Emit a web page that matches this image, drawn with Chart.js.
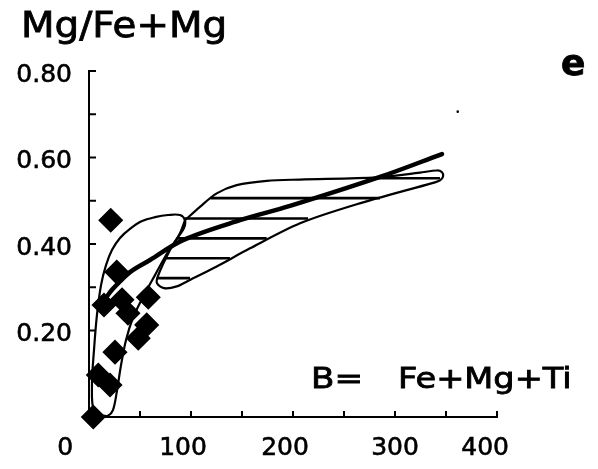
<!DOCTYPE html>
<html>
<head>
<meta charset="utf-8">
<script src="https://cdn.jsdelivr.net/npm/chart.js@4/dist/chart.umd.min.js"></script>
<style>
html,body{margin:0;padding:0;background:#fff;}
#wrap{width:598px;height:469px;position:relative;}
</style>
</head>
<body>
<div id="wrap"><canvas id="c"></canvas></div>
<script>
// ---- data ----
const diamondX = [21.3, 27.2, 14.7, 32.4, 38.2, 58.1, 56.6, 48.3, 25.5, 9.1, 20.6, 4.2];
const diamondY = [0.455, 0.335, 0.259, 0.271, 0.240, 0.277, 0.213, 0.182, 0.150, 0.097, 0.074, 0.000];

const curveX = [18.6, 22.5, 40.2, 59.8, 92.2, 148.0, 197.1, 285.3, 346.1];
const curveY = [0.282, 0.294, 0.335, 0.363, 0.409, 0.455, 0.488, 0.555, 0.608];

const fieldX = [94.1,108.8,125.2,144.8,174.2,206.9,282.4,324.5,340.9,346.1,347.1,344.1,338.2,262.5,206.9,157.8,125.2,99.0,86.0,73.5,66.7,67.6,79.4,89.2,94.1];
const fieldY = [0.455,0.486,0.517,0.536,0.546,0.549,0.554,0.565,0.570,0.566,0.556,0.547,0.542,0.492,0.448,0.390,0.348,0.317,0.302,0.298,0.309,0.326,0.386,0.425,0.455];

const loopX = [13.7,4.9,2.9,4.9,7.8,11.8,16.7,22.5,30.4,40.2,52.0,64.7,77.5,89.2,94.1,93.1,87.3,77.5,64.7,52.9,43.1,36.3,31.4,27.5,23.5,18.6,13.7];
const loopY = [0.003,0.012,0.074,0.155,0.236,0.305,0.351,0.386,0.414,0.435,0.453,0.462,0.467,0.467,0.455,0.437,0.416,0.382,0.328,0.277,0.229,0.178,0.120,0.062,0.016,0.003,0.003];

const hatchY  = [0.552, 0.506, 0.459, 0.413, 0.367, 0.321];
const hatchX0 = [282.4, 119.1, 94.1, 86.3, 75.5, 67.6];
const hatchX1 = [344.1, 285.3, 214.7, 174.2, 138.2, 99.0];

const speckX = [361.5];
const speckY = [0.706];

const xTickLabels = ['0', '100', '200', '300', '400'];
const yTickLabels = ['0.20', '0.40', '0.60', '0.80'];

const titleText = 'Mg/Fe+Mg';
const panelText = 'e';
const axisNoteA = 'B=';
const axisNoteB = 'Fe+Mg+Ti';

// styling: trailing spaces nudging each x label as in the original print
const xLabelPad = [6, 2, 2, 0, 3];

// ---- build datasets ----
const zip = (xs, ys) => xs.map((x, i) => ({x, y: ys[i]}));
const INK = '#000';

const datasets = [
  {data: zip(diamondX, diamondY), pointStyle: 'rectRot', pointRadius: 11.5, pointBackgroundColor: INK, pointBorderColor: INK, pointBorderWidth: 1.5, showLine: false, clip: false},
  {data: zip(speckX, speckY), pointRadius: 1.3, pointBackgroundColor: INK, pointBorderWidth: 0, showLine: false, clip: false},
  {data: zip(curveX, curveY), showLine: true, borderColor: INK, borderWidth: 4.5, tension: 0.35, pointRadius: 0, borderCapStyle: 'round', clip: false},
  {data: zip(fieldX, fieldY), showLine: true, borderColor: INK, borderWidth: 2.2, tension: 0.3, pointRadius: 0, borderJoinStyle: 'round', clip: false},
  {data: zip(loopX, loopY), showLine: true, borderColor: INK, borderWidth: 2.2, tension: 0.35, pointRadius: 0, borderJoinStyle: 'round', clip: false}
];
hatchY.forEach((y, i) => {
  datasets.push({data: [{x: hatchX0[i], y}, {x: hatchX1[i], y}], showLine: true, borderColor: INK, borderWidth: 2.6, pointRadius: 0, tension: 0, clip: false});
});

const inwardTicks = {
  id: 'inwardTicks',
  afterDraw(chart) {
    const {ctx, chartArea, scales: {x, y}} = chart;
    ctx.save();
    ctx.strokeStyle = INK;
    ctx.lineWidth = 2;
    ctx.beginPath();
    y.ticks.forEach(t => {
      const py = y.getPixelForValue(t.value);
      ctx.moveTo(chartArea.left, py);
      ctx.lineTo(chartArea.left + 7, py);
    });
    x.ticks.forEach(t => {
      const px = x.getPixelForValue(t.value);
      ctx.moveTo(px, chartArea.bottom);
      ctx.lineTo(px, chartArea.bottom - 6);
    });
    ctx.stroke();
    ctx.restore();
  }
};

const annotations = {
  id: 'annotations',
  afterDraw(chart) {
    const ctx = chart.ctx;
    const draw = (txt, x, y, font, sx) => {
      ctx.save();
      ctx.translate(x, y);
      ctx.scale(sx, 1);
      ctx.font = font;
      ctx.fillStyle = INK;
      ctx.strokeStyle = INK;
      ctx.lineWidth = 0.8;
      ctx.textAlign = 'left';
      ctx.textBaseline = 'alphabetic';
      ctx.fillText(txt, 0, 0);
      ctx.strokeText(txt, 0, 0);
      ctx.restore();
    };
    draw(titleText, 21, 37, '35px "DejaVu Sans"', 1.11);
    draw(panelText, 561, 75, 'bold 36px "DejaVu Sans"', 1.0);
    draw(axisNoteA, 311, 388, '28px "DejaVu Sans"', 1.22);
    draw(axisNoteB, 398, 388, '28px "DejaVu Sans"', 1.2);
  }
};

const tickFont = {family: '"DejaVu Sans"', size: 25};

new Chart(document.getElementById('c'), {
  type: 'scatter',
  data: {datasets},
  plugins: [inwardTicks, annotations],
  options: {
    responsive: true,
    maintainAspectRatio: false,
    animation: false,
    events: [],
    layout: {padding: {left: 0, top: 71, right: 101, bottom: 0}},
    plugins: {legend: {display: false}, tooltip: {enabled: false}},
    scales: {
      x: {
        type: 'linear', min: 0, max: 400,
        grid: {display: false, drawTicks: false},
        border: {display: true, color: INK, width: 2},
        ticks: {
          stepSize: 50, autoSkip: false, maxRotation: 0, padding: 16,
          color: INK, font: tickFont, textStrokeColor: INK, textStrokeWidth: 0.6,
          callback: v => {
            if (v % 100 !== 0) return '';
            const i = v / 100;
            return xTickLabels[i] + ' '.repeat(xLabelPad[i]);
          }
        },
        afterFit: s => { s.height = 52; }
      },
      y: {
        type: 'linear', min: 0, max: 0.8,
        grid: {display: false, drawTicks: false},
        border: {display: true, color: INK, width: 2},
        ticks: {
          stepSize: 0.1, autoSkip: false, padding: 17, labelOffset: 4,
          color: INK, font: tickFont, textStrokeColor: INK, textStrokeWidth: 0.6,
          callback: v => {
            const i = Math.round(v * 10);
            return (i > 0 && i % 2 === 0) ? yTickLabels[i / 2 - 1] : '';
          }
        },
        afterFit: s => { s.width = 89; }
      }
    }
  }
});
</script>
</body>
</html>
